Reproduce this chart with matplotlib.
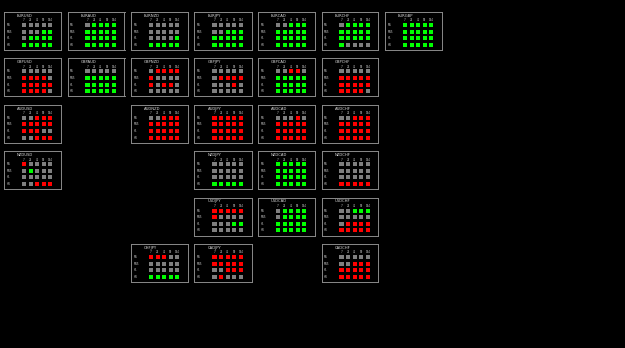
import matplotlib
matplotlib.use("Agg")
import matplotlib.pyplot as plt

# currency pairs and where each panel sits (grid row, grid column)
pairs = ["EURUSD", "EURAUD", "EURNZD", "EURJPY", "EURCAD", "EURCHF", "EURGBP",
         "GBPUSD", "GBPAUD", "GBPNZD", "GBPJPY", "GBPCAD", "GBPCHF",
         "AUDUSD", "AUDNZD", "AUDJPY", "AUDCAD", "AUDCHF",
         "NZDUSD", "NZDJPY", "NZDCAD", "NZDCHF",
         "USDJPY", "USDCAD", "USDCHF",
         "CHFJPY", "CADJPY", "CADCHF"]
grid_rows = [0, 0, 0, 0, 0, 0, 0,
             1, 1, 1, 1, 1, 1,
             2, 2, 2, 2, 2,
             3, 3, 3, 3,
             4, 4, 4,
             5, 5, 5]
grid_cols = [0, 1, 2, 3, 4, 5, 6,
             0, 1, 2, 3, 4, 5,
             0, 2, 3, 4, 5,
             0, 3, 4, 5,
             3, 4, 5,
             2, 3, 5]

timeframes = ["M5", "M15", "H1", "H4"]
periods = ["7", "21", "42", "89", "144"]

# G = up, R = down, N = neutral ; one string per timeframe row
signals = [
    ["NNNNN", "NNNGG", "NGGGG", "GGGGG"],  # EURUSD
    ["NGGGG", "GGGGG", "GGGGG", "GGGGG"],  # EURAUD
    ["NNNNN", "NNNNN", "NNNNG", "GGGGG"],  # EURNZD
    ["NNNNN", "NNGGG", "GGGGG", "GGGGG"],  # EURJPY
    ["NNGGG", "GGGGG", "GGGGG", "GGGGG"],  # EURCAD
    ["NGGGG", "GGGGG", "GGGGG", "GNNNN"],  # EURCHF
    ["GGGGG", "GGGGG", "GGGGG", "GGGGG"],  # EURGBP
    ["NNNNN", "RRRRN", "RRRRR", "RRRRN"],  # GBPUSD
    ["NNNNN", "GGGGG", "GGGGG", "GGGGG"],  # GBPAUD
    ["NRRRR", "RNNNN", "RNRRN", "NNNNN"],  # GBPNZD
    ["NNNNN", "NRRRR", "NNNRN", "NNNNN"],  # GBPJPY
    ["NNRRN", "GGGGG", "GGGGG", "GGGGG"],  # GBPCAD
    ["NNNNN", "RRRRR", "RRRRR", "RRRRN"],  # GBPCHF
    ["NNRRR", "RRRRR", "RRRNN", "NNRRR"],  # AUDUSD
    ["NNRRR", "RRRRR", "RRRRR", "RRRRR"],  # AUDNZD
    ["RRRRR", "RRRRR", "RRRRR", "RRRRR"],  # AUDJPY
    ["NNNRN", "RRRRR", "RRRRR", "RRRRR"],  # AUDCAD
    ["NNRRR", "RRRRR", "RRRRR", "RRRRR"],  # AUDCHF
    ["RNNNN", "NGNNN", "NNNNN", "NNRRR"],  # NZDUSD
    ["NNNNN", "NNNNN", "NNNNN", "GGGGG"],  # NZDJPY
    ["GGGGG", "GGGGG", "GGGGG", "GGGGG"],  # NZDCAD
    ["NNNNN", "NNNNN", "NNNNN", "RRRRR"],  # NZDCHF
    ["RRRRR", "RNNNN", "NNNGG", "NNNNN"],  # USDJPY
    ["NGGGG", "NGGGG", "GGGGG", "GGGGG"],  # USDCAD
    ["NNGGG", "NNNNN", "NRRRR", "RRRRR"],  # USDCHF
    ["RRRNN", "NNNNN", "NNNNN", "GGGGG"],  # CHFJPY
    ["RRRRR", "RRRRR", "NNRRR", "NRNNN"],  # CADJPY
    ["NNNNN", "NNRRR", "RRRRR", "RRRRR"],  # CADCHF
]

colour = {"G": "#00ff00", "R": "#ff0000", "N": "#7f7f7f"}

W, H = 625, 348
fig = plt.figure(figsize=(W / 100, H / 100), dpi=100)
fig.patch.set_facecolor("black")

pw, ph = 57, 38          # panel size in pixels
step = 6.6               # pixels between square centres

for name, gr, gc, sig in zip(pairs, grid_rows, grid_cols, signals):
    left = 4 + gc * 63.5
    top = 12 + gr * 46.4
    ax = fig.add_axes([left / W, 1 - (top + ph) / H, pw / W, ph / H])
    ax.set_facecolor("black")
    # data units: one unit per square, column 0 at 20px, row 0 at 13px
    ax.set_xlim(-20 / step, (pw - 20) / step)
    ax.set_ylim((ph - 13) / step, -13 / step)
    ax.set_xticks([])
    ax.set_yticks([])
    for sp in ax.spines.values():
        sp.set_color("#8a8a8a")
        sp.set_linewidth(0.7)

    xs, ys, cs = [], [], []
    for r, row in enumerate(sig):
        for c, ch in enumerate(row):
            xs.append(c)
            ys.append(r)
            cs.append(colour[ch])
    ax.scatter(xs, ys, c=cs, marker="s", s=8.3, linewidths=0)

    ax.text(13 / pw, 1 - 3.8 / ph, name, transform=ax.transAxes, color="#dddddd",
            fontsize=2.7, va="center", ha="left")
    for c, p in enumerate(periods):
        ax.text(c, -0.7, p, color="#d0d0d0", fontsize=1.9, ha="center", va="center")
    for r, tf in enumerate(timeframes):
        ax.text(2.5 / pw, r, tf, transform=ax.get_yaxis_transform(), color="#d0d0d0",
                fontsize=1.9, ha="left", va="center")

fig.savefig("out.png", dpi=100, facecolor="black")
